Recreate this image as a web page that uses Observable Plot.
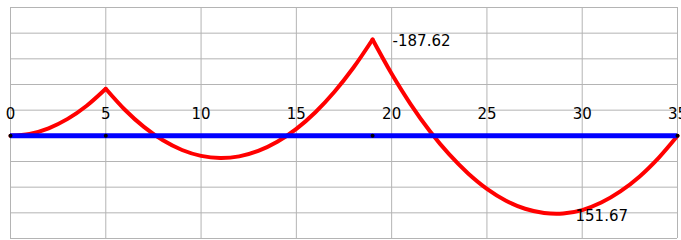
<!DOCTYPE html>
<html>
<head>
<meta charset="utf-8">
<script src="https://cdn.jsdelivr.net/npm/d3@7"></script>
<script src="https://cdn.jsdelivr.net/npm/@observablehq/plot@0.6"></script>
<style>
  html, body { margin: 0; padding: 0; background: #fff; }
  #chart svg { display: block; }
</style>
</head>
<body>
<div id="chart"></div>
<script>
// Positions along the beam (m) and bending moment
const span1X = [0, 1, 2, 3, 4, 5];
const span1M = [0, -3.67, -14.67, -33.0, -58.67, -91.68];
const span2X = [5, 6, 7, 8, 9, 10, 11, 12, 13, 14, 15, 16, 17, 18, 19];
const span2M = [-91.68, -50.86, -17.39, 8.77, 27.59, 39.07, 43.21, 40.03, 29.52, 11.66, -13.53, -46.05, -85.91, -133.1, -187.62];
const span3X = [19, 20, 21, 22, 23, 24, 25, 26, 27, 28, 29, 30, 31, 32, 33, 34, 35];
const span3M = [-187.62, -120.89, -61.47, -9.44, 35.28, 72.71, 103.2, 126.3, 142.0, 150.2, 151.2, 144.6, 130.0, 108.3, 79.6, 43.4, 0];
const supports = [0, 5, 19, 35];
const tickValues = [0, 5, 10, 15, 20, 25, 30, 35];
const gridYValues = [-250, -200, -150, -100, -50, 0, 50, 100, 150, 200];
const labelX = [19, 28.6];
const labelM = [-187.62, 151.67];
const labelText = ["-187.62", "151.67"];

const moment = [
  ...span1X.map((x, i) => ({x, m: span1M[i], s: 1})),
  ...span2X.map((x, i) => ({x, m: span2M[i], s: 2})),
  ...span3X.map((x, i) => ({x, m: span3M[i], s: 3}))
];
const labels = labelX.map((x, i) => ({x, m: labelM[i], t: labelText[i]}));

const chart = Plot.plot({
  width: 681,
  height: 240,
  marginTop: 7,
  marginBottom: 2,
  marginLeft: 10,
  marginRight: 4,
  style: {fontFamily: "'DejaVu Sans', Verdana, sans-serif", background: "#fff"},
  x: {domain: [0, 35], axis: null},
  y: {domain: [-250, 200], reverse: true, axis: null},
  marks: [
    Plot.gridX(tickValues, {stroke: "#b4b4b4", strokeOpacity: 1, strokeWidth: 1}),
    Plot.gridY(gridYValues, {stroke: "#b4b4b4", strokeOpacity: 1, strokeWidth: 1}),
    Plot.text(tickValues, {x: d => d, y: 0, text: d => String(d), dy: -22, fontSize: 15, fill: "#000"}),
    Plot.line(moment, {x: "x", y: "m", z: "s", stroke: "#ff0000", strokeWidth: 4, curve: "catmull-rom", strokeLinecap: "round"}),
    Plot.ruleY([0], {x1: 0, x2: 35, stroke: "#0000ff", strokeWidth: 5}),
    Plot.dot(supports, {x: d => d, y: 0, r: 2, fill: "#000", stroke: "none"}),
    Plot.text(labels, {x: "x", y: "m", text: "t", textAnchor: "start", dx: 20, dy: 2, fontSize: 15, fill: "#000"})
  ]
});
document.getElementById("chart").appendChild(chart);
</script>
</body>
</html>
